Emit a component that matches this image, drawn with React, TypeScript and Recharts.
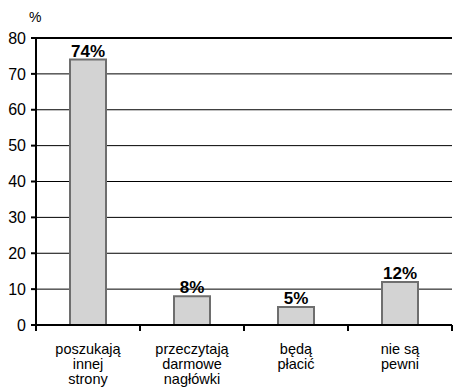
import React from 'react';
import {
  BarChart,
  Bar,
  XAxis,
  YAxis,
  CartesianGrid,
  LabelList,
  ReferenceLine,
} from 'recharts';

// Survey answers (share of respondents, %)
const categories: string[] = [
  'poszukają\ninnej\nstrony',
  'przeczytają\ndarmowe\nnagłówki',
  'będą\npłacić',
  'nie są\npewni',
];
const shares: number[] = [74, 8, 5, 12];
const yTicks: number[] = [0, 10, 20, 30, 40, 50, 60, 70, 80];

const data = categories.map((name, i) => ({ name, value: shares[i] }));

const W = 455;
const H = 392;
const MARGIN = { top: 38, right: 3, bottom: 0, left: 0 };
const Y_AXIS_W = 36;
const FONT = 'Arial, "Liberation Sans", Helvetica, sans-serif';
const LINE_H = 15;

const plotWidth = W - MARGIN.left - MARGIN.right - Y_AXIS_W;
const band = plotWidth / categories.length;

// Category tick: multi-line label plus dividers between categories
const CategoryTick = (props: any) => {
  const { x, y, payload, index } = props;
  const lines: string[] = String(payload.value).split('\n');
  const left = x - band / 2;
  const right = x + band / 2;
  return (
    <g>
      <line x1={left} x2={left} y1={y} y2={y + 6} stroke="#000" strokeWidth={2} />
      {index === categories.length - 1 && (
        <line x1={right} x2={right} y1={y} y2={y + 6} stroke="#000" strokeWidth={2} />
      )}
      {lines.map((l, i) => (
        <text
          key={i}
          x={x}
          y={y + 29 + i * LINE_H}
          textAnchor="middle"
          fontFamily={FONT}
          fontSize={14.5}
          fill="#000"
        >
          {l}
        </text>
      ))}
    </g>
  );
};

export default function App() {
  return (
    <div style={{ position: 'absolute', left: 0, top: 0, width: W, height: H, background: '#fff' }}>
      <div
        style={{
          position: 'absolute',
          left: 29,
          top: 9,
          fontFamily: FONT,
          fontSize: 14,
          lineHeight: '16px',
          color: '#000',
        }}
      >
        %
      </div>
      <BarChart width={W} height={H} data={data} margin={MARGIN} barSize={36}>
        <CartesianGrid yAxisId="l" vertical={false} stroke="#000" strokeWidth={1} />
        <XAxis
          dataKey="name"
          interval={0}
          height={H - 325}
          axisLine={{ stroke: '#000', strokeWidth: 2 }}
          tickLine={false}
          tickSize={0}
          tickMargin={0}
          tick={<CategoryTick />}
        />
        <YAxis
          yAxisId="l"
          width={Y_AXIS_W}
          domain={[0, 80]}
          ticks={yTicks}
          interval={0}
          axisLine={{ stroke: '#000', strokeWidth: 2 }}
          tickLine={{ stroke: '#000', strokeWidth: 2 }}
          tickSize={5}
          tickMargin={5}
          tick={{ fill: '#000', fontSize: 16, fontFamily: FONT }}
        />
        <YAxis
          yAxisId="r"
          orientation="right"
          width={0}
          domain={[0, 80]}
          tick={false}
          tickLine={false}
          axisLine={{ stroke: '#000', strokeWidth: 1 }}
        />
        <ReferenceLine yAxisId="l" y={80} stroke="#000" strokeWidth={2} />
        <Bar
          yAxisId="l"
          dataKey="value"
          fill="#d3d3d3"
          stroke="#6e6e6e"
          strokeWidth={2}
          isAnimationActive={false}
        >
          <LabelList
            dataKey="value"
            position="top"
            offset={3}
            formatter={(v: any) => `${v}%`}
            fill="#000"
            fontSize={17}
            fontWeight="bold"
            fontFamily={FONT}
          />
        </Bar>
      </BarChart>
    </div>
  );
}
